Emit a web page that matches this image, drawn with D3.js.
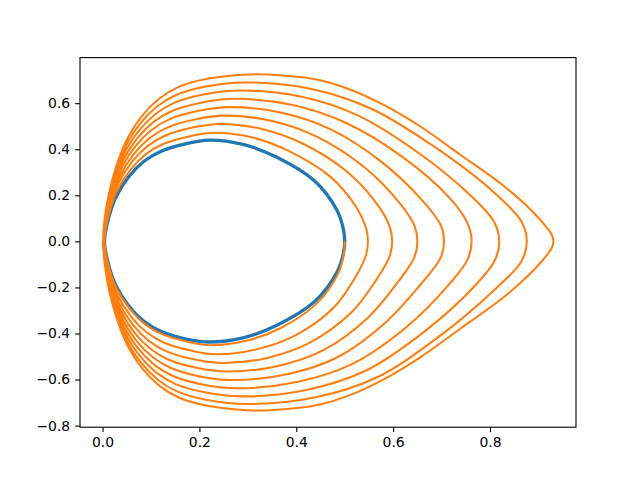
<!DOCTYPE html>
<html>
<head>
<meta charset="utf-8">
<script src="https://cdn.jsdelivr.net/npm/d3@7"></script>
<style>
  html, body { margin: 0; padding: 0; background: #ffffff; }
  svg { display: block; }
  .tick text { font-family: "DejaVu Sans", sans-serif; font-size: 13.9px; fill: #000; }
</style>
</head>
<body>
<svg id="chart" width="640" height="480"></svg>
<script>
// ---- data ----
const xTicks = [0.0, 0.2, 0.4, 0.6, 0.8];
const yTicks = [-0.8, -0.6, -0.4, -0.2, 0.0, 0.2, 0.4, 0.6];

// blue closed orbit: upper half (left pinch -> right vertex) and lower half
const blueUpper = [[0.004,0],[0.0104,0.0834],[0.0267,0.1884],[0.0546,0.2814],[0.0862,0.3487],[0.1213,0.3917],[0.1778,0.4264],[0.220,0.440],[0.290,0.421],[0.360,0.365],[0.438,0.262],[0.484,0.135],[0.497,0.055],[0.500,0]];
const blueLower = [[0.004,0],[0.0104,-0.0834],[0.0267,-0.1884],[0.0546,-0.2814],[0.0862,-0.3487],[0.1213,-0.3917],[0.1778,-0.4264],[0.220,-0.437],[0.290,-0.419],[0.360,-0.364],[0.438,-0.261],[0.484,-0.134],[0.497,-0.055],[0.500,0]];

// orange outward spiral: upper arcs of turns 2..9 (pinch -> vertex)
const orangeUpper = [
  [[0.004,0],[0.0108,0.0979],[0.0290,0.2155],[0.0576,0.3108],[0.0895,0.3789],[0.1252,0.4228],[0.1824,0.4578],[0.230,0.472],[0.308,0.452],[0.385,0.392],[0.470,0.281],[0.525,0.145],[0.544,0.059],[0.548,0]],
  [[0.003,0],[0.0113,0.1152],[0.0318,0.2477],[0.0611,0.3458],[0.0935,0.4148],[0.1299,0.4598],[0.1878,0.4951],[0.241,0.510],[0.329,0.488],[0.414,0.424],[0.505,0.302],[0.569,0.155],[0.593,0.063],[0.598,0]],
  [[0.003,0],[0.0117,0.1317],[0.0345,0.2784],[0.0645,0.3791],[0.0973,0.4490],[0.1343,0.4951],[0.1929,0.5307],[0.252,0.546],[0.350,0.523],[0.442,0.455],[0.540,0.323],[0.614,0.165],[0.644,0.068],[0.650,0]],
  [[0.0025,0],[0.0122,0.1483],[0.0372,0.3094],[0.0679,0.4128],[0.1012,0.4835],[0.1388,0.5307],[0.1982,0.5667],[0.263,0.583],[0.370,0.558],[0.471,0.486],[0.576,0.345],[0.661,0.176],[0.698,0.072],[0.705,0]],
  [[0.002,0],[0.0126,0.1648],[0.0398,0.3401],[0.0713,0.4461],[0.1049,0.5177],[0.1432,0.5659],[0.2033,0.6023],[0.273,0.619],[0.390,0.593],[0.501,0.516],[0.619,0.367],[0.717,0.188],[0.754,0.077],[0.762,0]],
  [[0.002,0],[0.0130,0.1814],[0.0425,0.3710],[0.0747,0.4797],[0.1088,0.5522],[0.1476,0.6015],[0.2085,0.6382],[0.284,0.655],[0.411,0.628],[0.527,0.547],[0.649,0.389],[0.760,0.199],[0.809,0.082],[0.819,0]],
  [[0.0014,0],[0.0135,0.1974],[0.0450,0.4008],[0.0780,0.5121],[0.1125,0.5854],[0.1519,0.6357],[0.2135,0.6727],[0.295,0.690],[0.431,0.662],[0.554,0.577],[0.685,0.411],[0.809,0.211],[0.865,0.086],[0.876,0]],
  [[0.001,0],[0.0139,0.2132],[0.0476,0.4303],[0.0812,0.5441],[0.1161,0.6183],[0.1562,0.6696],[0.2185,0.7069],[0.305,0.725],[0.3725,0.7204],[0.4421,0.7030],[0.5108,0.6596],[0.5796,0.5936],[0.6554,0.4998],[0.7379,0.3773],[0.8205,0.2536],[0.8618,0.1819],[0.8927,0.1190],[0.9153,0.0647],[0.9272,0.0300],[0.931,0]]
];
// orange lower arcs of turns 1..9 (pinch -> vertex; traversed vertex -> pinch)
const orangeLower = [
  [[0.004,0],[0.0105,-0.0886],[0.0275,-0.1981],[0.0557,-0.2919],[0.0874,-0.3595],[0.1227,-0.4028],[0.1794,-0.4376],[0.223,-0.451],[0.296,-0.432],[0.369,-0.375],[0.444,-0.266],[0.487,-0.137],[0.498,-0.056],[0.500,0]],
  [[0.0035,0],[0.0110,-0.1061],[0.0304,-0.2307],[0.0593,-0.3274],[0.0914,-0.3959],[0.1274,-0.4403],[0.1849,-0.4755],[0.235,-0.490],[0.318,-0.469],[0.399,-0.407],[0.478,-0.286],[0.525,-0.145],[0.544,-0.059],[0.548,0]],
  [[0.003,0],[0.0115,-0.1236],[0.0332,-0.2634],[0.0628,-0.3628],[0.0955,-0.4323],[0.1321,-0.4778],[0.1904,-0.5134],[0.246,-0.528],[0.340,-0.506],[0.428,-0.440],[0.514,-0.308],[0.569,-0.155],[0.593,-0.063],[0.598,0]],
  [[0.003,0],[0.0119,-0.1405],[0.0359,-0.2948],[0.0663,-0.3970],[0.0994,-0.4673],[0.1367,-0.5140],[0.1957,-0.5498],[0.257,-0.565],[0.360,-0.542],[0.457,-0.471],[0.549,-0.329],[0.614,-0.165],[0.644,-0.068],[0.650,0]],
  [[0.0023,0],[0.0124,-0.1574],[0.0386,-0.3263],[0.0698,-0.4311],[0.1032,-0.5024],[0.1412,-0.5501],[0.2010,-0.5863],[0.268,-0.602],[0.381,-0.577],[0.486,-0.502],[0.585,-0.351],[0.661,-0.176],[0.698,-0.072],[0.705,0]],
  [[0.002,0],[0.0128,-0.1736],[0.0412,-0.3565],[0.0731,-0.4640],[0.1070,-0.5361],[0.1456,-0.5848],[0.2061,-0.6213],[0.279,-0.638],[0.401,-0.611],[0.516,-0.532],[0.627,-0.373],[0.715,-0.188],[0.754,-0.077],[0.762,0]],
  [[0.002,0],[0.0133,-0.1894],[0.0438,-0.3860],[0.0763,-0.4960],[0.1106,-0.5690],[0.1498,-0.6187],[0.2111,-0.6556],[0.289,-0.673],[0.421,-0.645],[0.543,-0.562],[0.663,-0.394],[0.766,-0.199],[0.810,-0.082],[0.819,0]],
  [[0.0012,0],[0.0137,-0.2048],[0.0462,-0.4146],[0.0795,-0.5270],[0.1142,-0.6008],[0.1539,-0.6515],[0.2159,-0.6887],[0.300,-0.706],[0.440,-0.677],[0.567,-0.590],[0.693,-0.416],[0.809,-0.211],[0.865,-0.086],[0.876,0]],
  [[0.000,0],[0.0140,-0.2171],[0.0482,-0.4376],[0.0820,-0.5520],[0.1170,-0.6264],[0.1572,-0.6779],[0.2197,-0.7153],[0.308,-0.734],[0.3740,-0.7290],[0.4435,-0.7110],[0.5120,-0.6665],[0.5805,-0.5990],[0.6560,-0.5035],[0.7385,-0.3795],[0.8208,-0.2545],[0.8620,-0.1822],[0.8928,-0.1191],[0.9153,-0.0647],[0.9272,-0.0300],[0.931,0]]
];

// ---- layout ----
const svg = d3.select("#chart");
const plot = { left: 80, top: 57.6, width: 496, height: 369.6 };

// assemble paths
const bluePath = blueUpper.concat(blueLower.slice(1, -1).reverse());
let spiral = orangeLower[0].slice().reverse();
for (let k = 0; k < orangeUpper.length; k++) {
  spiral = spiral.concat(orangeUpper[k].slice(1));
  spiral = spiral.concat(orangeLower[k + 1].slice(0, -1).reverse());
}

const allPts = bluePath.concat(spiral);
const xExt = d3.extent(allPts, d => d[0]);
const yExt = d3.extent(allPts, d => d[1]);
const xPad = (xExt[1] - xExt[0]) * 0.05;
const yPad = (yExt[1] - yExt[0]) * 0.05;

const x = d3.scaleLinear().domain([xExt[0] - xPad, xExt[1] + xPad]).range([plot.left, plot.left + plot.width]);
const y = d3.scaleLinear().domain([yExt[0] - yPad, yExt[1] + yPad]).range([plot.top + plot.height, plot.top]);

svg.append("defs").append("clipPath").attr("id", "clip")
  .append("rect").attr("x", plot.left).attr("y", plot.top).attr("width", plot.width).attr("height", plot.height);

const g = svg.append("g").attr("clip-path", "url(#clip)");

g.append("path")
  .attr("d", d3.line().x(d => x(d[0])).y(d => y(d[1])).curve(d3.curveCatmullRomClosed.alpha(0.5))(bluePath))
  .attr("fill", "none").attr("stroke", "#1f77b4").attr("stroke-width", 3.3).attr("stroke-linejoin", "round");

g.append("path")
  .attr("d", d3.line().x(d => x(d[0])).y(d => y(d[1])).curve(d3.curveCatmullRom.alpha(0.5))(spiral))
  .attr("fill", "none").attr("stroke", "#ff7f0e").attr("stroke-width", 2.05).attr("stroke-linejoin", "round");

// axes
const fmt = d3.format(".1f");
const xAxis = svg.append("g").attr("transform", `translate(0,${plot.top + plot.height})`)
  .call(d3.axisBottom(x).tickValues(xTicks).tickFormat(fmt).tickSize(4.9).tickSizeOuter(0).tickPadding(4.9));
const yAxis = svg.append("g").attr("transform", `translate(${plot.left},0)`)
  .call(d3.axisLeft(y).tickValues(yTicks).tickFormat(fmt).tickSize(4.9).tickSizeOuter(0).tickPadding(4.9));
[xAxis, yAxis].forEach(a => {
  a.select(".domain").remove();
  a.selectAll(".tick line").attr("stroke", "#000").attr("stroke-width", 1.1);
  a.selectAll(".tick text").attr("font-family", "DejaVu Sans, sans-serif").attr("font-size", 13.9).attr("fill", "#000");
});

svg.append("rect")
  .attr("x", plot.left).attr("y", plot.top).attr("width", plot.width).attr("height", plot.height)
  .attr("fill", "none").attr("stroke", "#000").attr("stroke-width", 1.1);
</script>
</body>
</html>
